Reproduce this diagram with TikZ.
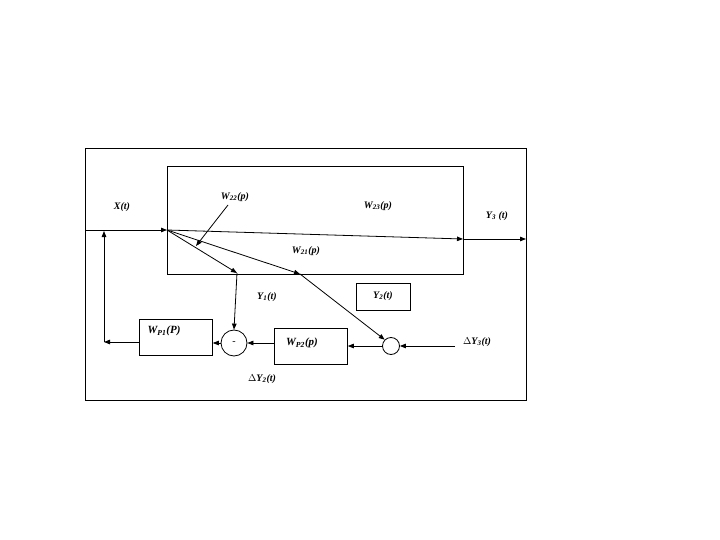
\documentclass[tikz,border=0pt]{standalone}
\usepackage{fontspec}
\setmainfont{Liberation Serif}
\usetikzlibrary{arrows.meta}
\begin{document}
\begin{tikzpicture}[x=1pt,y=-1pt,
  ln/.style={line width=0.8pt},
  ar/.style={ln,-{Triangle[length=6pt,width=4.5pt]}},
  lab/.style={font=\fontsize{10}{12}\selectfont\bfseries\itshape},
  blk/.style={draw,ln,minimum width=#1,minimum height=36pt,inner sep=0pt},
  sum/.style={draw,ln,circle,inner sep=0pt}]
\useasboundingbox (0,0) rectangle (720,540);
\node[draw,ln,minimum width=441pt,minimum height=252pt,anchor=north west] (outer) at (85,148) {};
\node[draw,ln,minimum width=296pt,minimum height=108pt,anchor=north west] (inner) at (167,166) {};
\coordinate (in) at (85,230);
\coordinate (s) at (167,230);
\coordinate (o3) at (463,239);
\coordinate (out) at (526,239);
\coordinate (p1) at (237,273);
\coordinate (p2) at (300,274);
\node[sum,minimum size=26pt] (c1) at (234,343) {-};
\node[sum,minimum size=17pt] (c2) at (391,346) {};
\node[blk=73pt,anchor=north west] (wp1) at (139,319) {};
\node[lab,font=\fontsize{11}{12}\selectfont\bfseries\itshape] at (164,331) {W\textsubscript{P1}(P)};
\node[blk=73pt,anchor=north west] (wp2) at (274,328) {};
\node[lab,font=\fontsize{11}{12}\selectfont\bfseries\itshape] (wp2l) at (302,343) {W\textsubscript{P2}(p)};
\node[draw,ln,minimum width=54pt,minimum height=27pt,anchor=north west] (y2b) at (356,283) {};
\node[lab] (y2) at (383,296) {Y\textsubscript{2}(t)};
\coordinate (fb) at (104,342);
\coordinate (fbt) at (104,231);
\coordinate (d3) at (455,346);
\draw[ar] (in) -- (s);
\draw[ar] (s) -- (o3);
\draw[ar] (o3) -- (out);
\draw[ar] (s) -- (p1);
\draw[ar] (p1) -- (c1.north);
\draw[ar] (s) -- (p2);
\draw[ar] (p2) -- (c2.north west);
\draw[ar] (d3) -- (c2.east);
\draw[ar] (c2.west) -- (wp2.east |- c2.west);
\draw[ar] (wp2.west |- c1.east) -- (c1.east);
\draw[ar] (c1.west) -- (wp1.east |- c1.west);
\draw[ar] (wp1.west |- fb) -- (fb);
\draw[ar] (fb) -- (fbt);
\node[lab] (w22) at (235,197) {W\textsubscript{22}(p)};
\coordinate (w22e) at (196,246);
\draw[ar] (228,205) -- (w22e);
\node[lab] at (378,206) {W\textsubscript{23}(p)};
\node[lab] at (306,251) {W\textsubscript{21}(p)};
\node[lab] at (122,207) {X(t)};
\node[lab] at (497,216) {Y\textsubscript{3} (t)};
\node[lab] at (267,297) {Y\textsubscript{1}(t)};
\node[lab] at (262,379) {$\Delta$Y\textsubscript{2}(t)};
\node[lab] at (477,342) {$\Delta$Y\textsubscript{3}(t)};
\end{tikzpicture}
\end{document}
